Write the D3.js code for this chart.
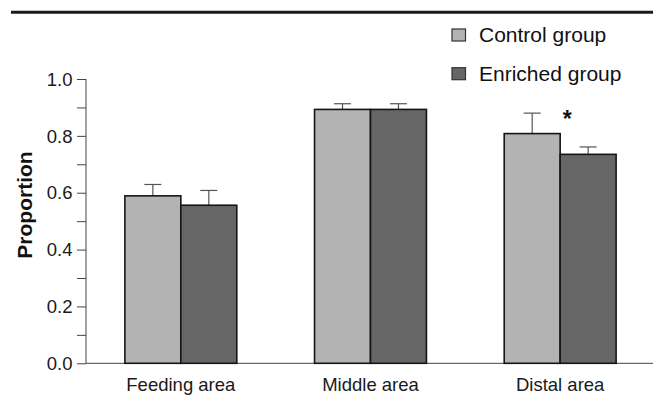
<!DOCTYPE html>
<html>
<head>
<meta charset="utf-8">
<script src="https://cdn.jsdelivr.net/npm/d3@7"></script>
<style>
  html, body { margin: 0; padding: 0; background: #fff; }
  svg { display: block; font-family: Arial, "Liberation Sans", Helvetica, sans-serif; }
</style>
</head>
<body>
<svg id="chart" width="653" height="396"></svg>
<script>
// Proportion of time spent in each area, by group (mean with upper error bar)
const areas = ["Feeding area", "Middle area", "Distal area"];
const groups = ["Control group", "Enriched group"];
const controlMean = [0.589, 0.893, 0.808];
const controlErr = [0.040, 0.020, 0.072];
const enrichedMean = [0.556, 0.893, 0.735];
const enrichedErr = [0.052, 0.020, 0.026];
const yTicks = [0.0, 0.2, 0.4, 0.6, 0.8, 1.0];
const yMinorTicks = [0.0, 0.1, 0.2, 0.3, 0.4, 0.5, 0.6, 0.7, 0.8, 0.9, 1.0];
const significant = ["Distal area"];

const colors = { "Control group": "#b3b3b3", "Enriched group": "#666666" };

const rows = areas.map((a, i) => ({
  area: a,
  bars: [
    { group: groups[0], mean: controlMean[i], err: controlErr[i] },
    { group: groups[1], mean: enrichedMean[i], err: enrichedErr[i] }
  ]
}));

const svg = d3.select("#chart");

// rule across the top of the figure
svg.append("line")
  .attr("x1", 11).attr("x2", 653)
  .attr("y1", 12.3).attr("y2", 12.3)
  .attr("stroke", "#1a1a1a").attr("stroke-width", 3);

const x = d3.scaleBand().domain(areas).range([86, 655])
  .paddingInner(0.41).paddingOuter(0.205);
const xs = d3.scaleBand().domain(groups).range([0, x.bandwidth()]).padding(0);
const y = d3.scaleLinear().domain([0, 1]).range([363.3, 79]);

// y axis: minor ticks every 0.1, labels every 0.2
const yAxis = svg.append("g").attr("transform", "translate(86,0)")
  .call(d3.axisLeft(y).tickValues(yMinorTicks).tickSize(9).tickFormat(() => ""));
yAxis.select(".domain").attr("stroke", "#444").attr("d", `M-0,${y(1)}H0V${y(0)}`);
yAxis.selectAll(".tick line").attr("stroke", "#444");

svg.append("g").selectAll("text").data(yTicks).join("text")
  .attr("x", 72.5).attr("y", d => y(d))
  .attr("dy", "0.36em")
  .attr("text-anchor", "end")
  .attr("font-size", 18.5)
  .attr("fill", "#1a1a1a")
  .text(d => d3.format(".1f")(d));

// x axis baseline and category labels
const xAxis = svg.append("g").attr("transform", `translate(0,${y(0)})`)
  .call(d3.axisBottom(x).tickSize(0).tickPadding(0));
xAxis.select(".domain").attr("stroke", "#444").attr("d", `M86,0H653`);
xAxis.selectAll(".tick text")
  .attr("y", 391 - y(0)).attr("dy", 0)
  .attr("font-size", 18.5)
  .attr("font-family", "Arial, 'Liberation Sans', sans-serif")
  .attr("fill", "#1a1a1a");

// y axis title
svg.append("text")
  .attr("transform", `translate(32,205) rotate(-90)`)
  .attr("text-anchor", "middle")
  .attr("font-size", 21)
  .attr("font-weight", "bold")
  .attr("fill", "#111")
  .text("Proportion");

// bars with upper error bars
const gArea = svg.append("g").selectAll("g").data(rows).join("g")
  .attr("transform", d => `translate(${x(d.area)},0)`);

const gBar = gArea.selectAll("g").data(d => d.bars).join("g");

gBar.append("line")
  .attr("x1", d => xs(d.group) + xs.bandwidth() / 2)
  .attr("x2", d => xs(d.group) + xs.bandwidth() / 2)
  .attr("y1", d => y(d.mean)).attr("y2", d => y(d.mean + d.err))
  .attr("stroke", "#555").attr("stroke-width", 1.2);
gBar.append("line")
  .attr("x1", d => xs(d.group) + xs.bandwidth() / 2 - 8.5)
  .attr("x2", d => xs(d.group) + xs.bandwidth() / 2 + 8.5)
  .attr("y1", d => y(d.mean + d.err)).attr("y2", d => y(d.mean + d.err))
  .attr("stroke", "#555").attr("stroke-width", 1.2);

gBar.append("rect")
  .attr("x", d => xs(d.group))
  .attr("width", xs.bandwidth())
  .attr("y", d => y(d.mean))
  .attr("height", d => y(0) - y(d.mean))
  .attr("fill", d => colors[d.group])
  .attr("stroke", "#151515").attr("stroke-width", 1.6);

// significance marker
svg.append("g").selectAll("text").data(significant).join("text")
  .attr("x", d => x(d) + x.bandwidth() / 2 + 7)
  .attr("y", 127)
  .attr("text-anchor", "middle")
  .attr("font-size", 23)
  .attr("font-weight", "bold")
  .attr("fill", "#111")
  .text("*");

// legend
const legend = svg.append("g").selectAll("g").data(groups).join("g")
  .attr("transform", (d, i) => `translate(452,${29 + i * 38.7})`);
legend.append("rect")
  .attr("width", 13.5).attr("height", 12)
  .attr("fill", d => colors[d])
  .attr("stroke", "#333").attr("stroke-width", 1.2);
legend.append("text")
  .attr("x", 27).attr("y", 12.8)
  .attr("font-size", 21)
  .attr("fill", "#111")
  .text(d => d);
</script>
</body>
</html>
